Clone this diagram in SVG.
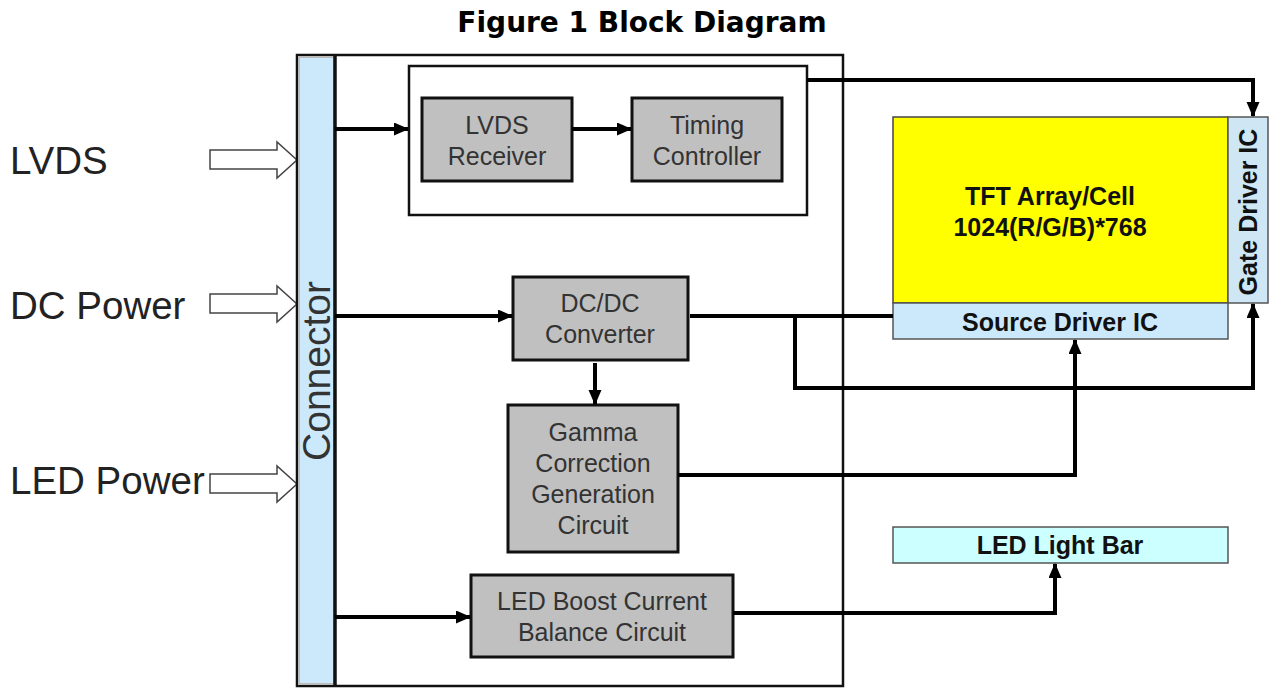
<svg xmlns="http://www.w3.org/2000/svg" width="1269" height="688" viewBox="0 0 1269 688">
<defs>
<marker id="ah" markerUnits="userSpaceOnUse" markerWidth="16" markerHeight="14" refX="14" refY="6.5" orient="auto">
<path d="M0,0 L15,6.5 L0,13 z" fill="#000"/>
</marker>
<style>
.gb{fill:#c0c0c0;stroke:#111;stroke-width:3}
.gt{font-family:"Liberation Sans",Arial,sans-serif;font-size:25px;fill:#333;text-anchor:middle}
.bt{font-family:"Liberation Sans",Arial,sans-serif;font-size:25px;font-weight:bold;fill:#111;text-anchor:middle}
.lt{font-family:"Liberation Sans",Arial,sans-serif;font-size:38.5px;fill:#222}
.ln{fill:none;stroke:#000;stroke-width:4}
.ha{fill:#fff;stroke:#444;stroke-width:1.5}
</style>
</defs>
<rect width="1269" height="688" fill="#fff"/>
<text x="642" y="32" text-anchor="middle" font-family="DejaVu Sans,sans-serif" font-weight="bold" font-size="28" fill="#000">Figure 1 Block Diagram</text>

<g id="labels">
<text class="lt" x="10" y="174">LVDS</text>
<text class="lt" x="10" y="319">DC Power</text>
<text class="lt" x="10" y="494">LED Power</text>
<polygon class="ha" points="210,150 277,150 277,142 297,160 277,178 277,169 210,169"/>
<polygon class="ha" points="210,294 277,294 277,286 297,304 277,322 277,313 210,313"/>
<polygon class="ha" points="210,474 277,474 277,466 297,484 277,502 277,493 210,493"/>
</g>

<g id="outer">
<rect x="297" y="55" width="546" height="631" fill="none" stroke="#111" stroke-width="2.5"/>
</g>
<g id="connector">
<rect x="299" y="57" width="35" height="627" fill="#cce9fb" stroke="#bbb" stroke-width="2"/>
<line x1="335" y1="55" x2="335" y2="686" stroke="#111" stroke-width="3.5"/>
<text transform="translate(330,371) rotate(-90)" text-anchor="middle" font-family="Liberation Sans,Arial,sans-serif" font-size="39" fill="#333">Connector</text>
</g>

<g id="lvds-group">
<rect x="409" y="66" width="398" height="149" fill="#fff" stroke="#111" stroke-width="2.5"/>
</g>
<g id="lvds-receiver">
<rect class="gb" x="422" y="98" width="150" height="83"/>
<text class="gt" x="497" y="134">LVDS</text>
<text class="gt" x="497" y="165">Receiver</text>
</g>
<g id="timing-controller">
<rect class="gb" x="632" y="98" width="150" height="83"/>
<text class="gt" x="707" y="134">Timing</text>
<text class="gt" x="707" y="165">Controller</text>
</g>
<g id="dcdc">
<rect class="gb" x="513" y="277" width="175" height="83"/>
<text class="gt" x="600" y="312">DC/DC</text>
<text class="gt" x="600" y="343">Converter</text>
</g>
<g id="gamma">
<rect class="gb" x="508" y="405" width="170" height="147"/>
<text class="gt" x="593" y="441">Gamma</text>
<text class="gt" x="593" y="472">Correction</text>
<text class="gt" x="593" y="503">Generation</text>
<text class="gt" x="593" y="534">Circuit</text>
</g>
<g id="led-boost">
<rect class="gb" x="471" y="575" width="262" height="82"/>
<text class="gt" x="602" y="610">LED Boost Current</text>
<text class="gt" x="602" y="641">Balance Circuit</text>
</g>

<g id="tft">
<rect x="893" y="117" width="335" height="186" fill="#ffff00" stroke="#444" stroke-width="1.5"/>
<text class="bt" x="1050" y="205">TFT Array/Cell</text>
<text class="bt" x="1050" y="236">1024(R/G/B)*768</text>
</g>
<g id="gate-driver">
<rect x="1228" y="117" width="40" height="186" fill="#cfe6f5" stroke="#555" stroke-width="1.5"/>
<text class="bt" transform="translate(1257,212) rotate(-90)" font-size="24">Gate Driver IC</text>
</g>
<g id="source-driver">
<rect x="893" y="303" width="335" height="36" fill="#cce9fb" stroke="#555" stroke-width="1.5"/>
<text class="bt" x="1060" y="331">Source Driver IC</text>
</g>
<g id="led-bar">
<rect x="893" y="527" width="335" height="36" fill="#ccffff" stroke="#555" stroke-width="1.5"/>
<text class="bt" x="1060" y="554">LED Light Bar</text>
</g>

<g id="connectors">
<path class="ln" d="M335,129 H408" marker-end="url(#ah)"/>
<path class="ln" d="M572,129 H631" marker-end="url(#ah)"/>
<path class="ln" d="M807,80 H1253 V116" marker-end="url(#ah)"/>
<path class="ln" d="M335,316 H512" marker-end="url(#ah)"/>
<path class="ln" d="M690,316 H893"/>
<path class="ln" d="M795,316 V388 H1253 V304" marker-end="url(#ah)"/>
<path class="ln" d="M595,363 V404" marker-end="url(#ah)"/>
<path class="ln" d="M678,475 H1075 V340" marker-end="url(#ah)"/>
<path class="ln" d="M335,617 H470" marker-end="url(#ah)"/>
<path class="ln" d="M733,613 H1055 V564" marker-end="url(#ah)"/>
</g>
</svg>
